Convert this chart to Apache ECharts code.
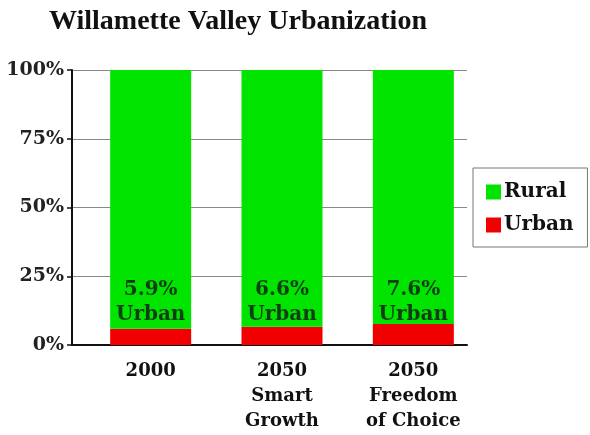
<!DOCTYPE html>
<html>
<head>
<meta charset="utf-8">
<script src="https://cdn.jsdelivr.net/npm/echarts@6/dist/echarts.min.js"></script>
<style>
html,body{margin:0;padding:0;background:#fff;}
#chart{width:590px;height:435px;}
</style>
</head>
<body>
<div id="chart"></div>
<script>
var categories = ['2000', '2050\nSmart\nGrowth', '2050\nFreedom\nof Choice'];
var urban = [5.9, 6.6, 7.6];
var rural = [94.1, 93.4, 92.4];
var urbanLabels = ['5.9%\nUrban', '6.6%\nUrban', '7.6%\nUrban'];

var FONT = '"DejaVu Serif", serif';

var chart = echarts.init(document.getElementById('chart'));
// grid 0 holds the bars, grid 1 draws the frame (axis lines, % labels, gridlines)
var option = {
	animation: false,
	backgroundColor: '#fff',
	title: {
		text: 'Willamette Valley Urbanization',
		left: 44,
		top: 3,
		textStyle: {
			fontFamily: '"Liberation Serif", serif',
			fontWeight: 'bold',
			fontSize: 28,
			color: '#111'
		}
	},
	legend: {
		data: ['Rural', 'Urban'],
		orient: 'vertical',
		left: 473,
		top: 168,
		padding: [13, 14, 11, 13],
		itemGap: 11,
		itemWidth: 15,
		itemHeight: 15,
		borderColor: '#777',
		borderWidth: 1,
		icon: 'rect',
		textStyle: {
			fontFamily: FONT,
			fontWeight: 'bold',
			fontSize: 20,
			lineHeight: 22,
			color: '#111',
			padding: [0, 0, 0, -2]
		}
	},
	grid: [
		{left: 85, right: 111, top: 70, bottom: 90},
		{left: 72, right: 123, top: 70, bottom: 90}
	],
	xAxis: [
		{
			type: 'category',
			gridIndex: 0,
			data: categories,
			axisLine: {show: false},
			axisTick: {show: false},
			axisLabel: {
				margin: 14,
				lineHeight: 25,
				fontFamily: FONT,
				fontWeight: 'bold',
				fontSize: 18,
				color: '#111'
			}
		},
		{
			type: 'value',
			gridIndex: 1,
			min: 0,
			max: 1,
			splitLine: {show: false},
			axisTick: {show: false},
			axisLabel: {show: false},
			axisLine: {show: true, onZero: false, lineStyle: {color: '#111', width: 2}}
		}
	],
	yAxis: [
		{
			type: 'value',
			gridIndex: 0,
			min: 0,
			max: 100,
			show: false
		},
		{
			type: 'value',
			gridIndex: 1,
			min: 0,
			max: 100,
			interval: 25,
			axisLine: {show: true, onZero: false, lineStyle: {color: '#111', width: 2}},
			axisTick: {show: true, length: 5, lineStyle: {color: '#111', width: 1.5}},
			splitLine: {show: true, lineStyle: {color: '#888', width: 1}},
			axisLabel: {
				margin: 8,
				fontFamily: FONT,
				fontWeight: 'bold',
				fontSize: 19,
				color: '#222',
				formatter: '{value}%'
			}
		}
	],
	series: [
		{
			name: 'Urban',
			type: 'bar',
			stack: 'total',
			xAxisIndex: 0,
			yAxisIndex: 0,
			barWidth: 81,
			data: urban,
			itemStyle: {color: '#f00000'},
			label: {
				show: true,
				position: 'insideBottom',
				distance: 0,
				offset: [0, -18],
				lineHeight: 25,
				fontFamily: FONT,
				fontWeight: 'bold',
				fontSize: 20,
				color: '#0f3d14',
				formatter: function(p){
					return urbanLabels[p.dataIndex];
				}
			}
		},
		{
			name: 'Rural',
			type: 'bar',
			stack: 'total',
			xAxisIndex: 0,
			yAxisIndex: 0,
			barWidth: 81,
			data: rural,
			itemStyle: {color: '#00e400'}
		}
	]
};
chart.setOption(option);
</script>
</body>
</html>
